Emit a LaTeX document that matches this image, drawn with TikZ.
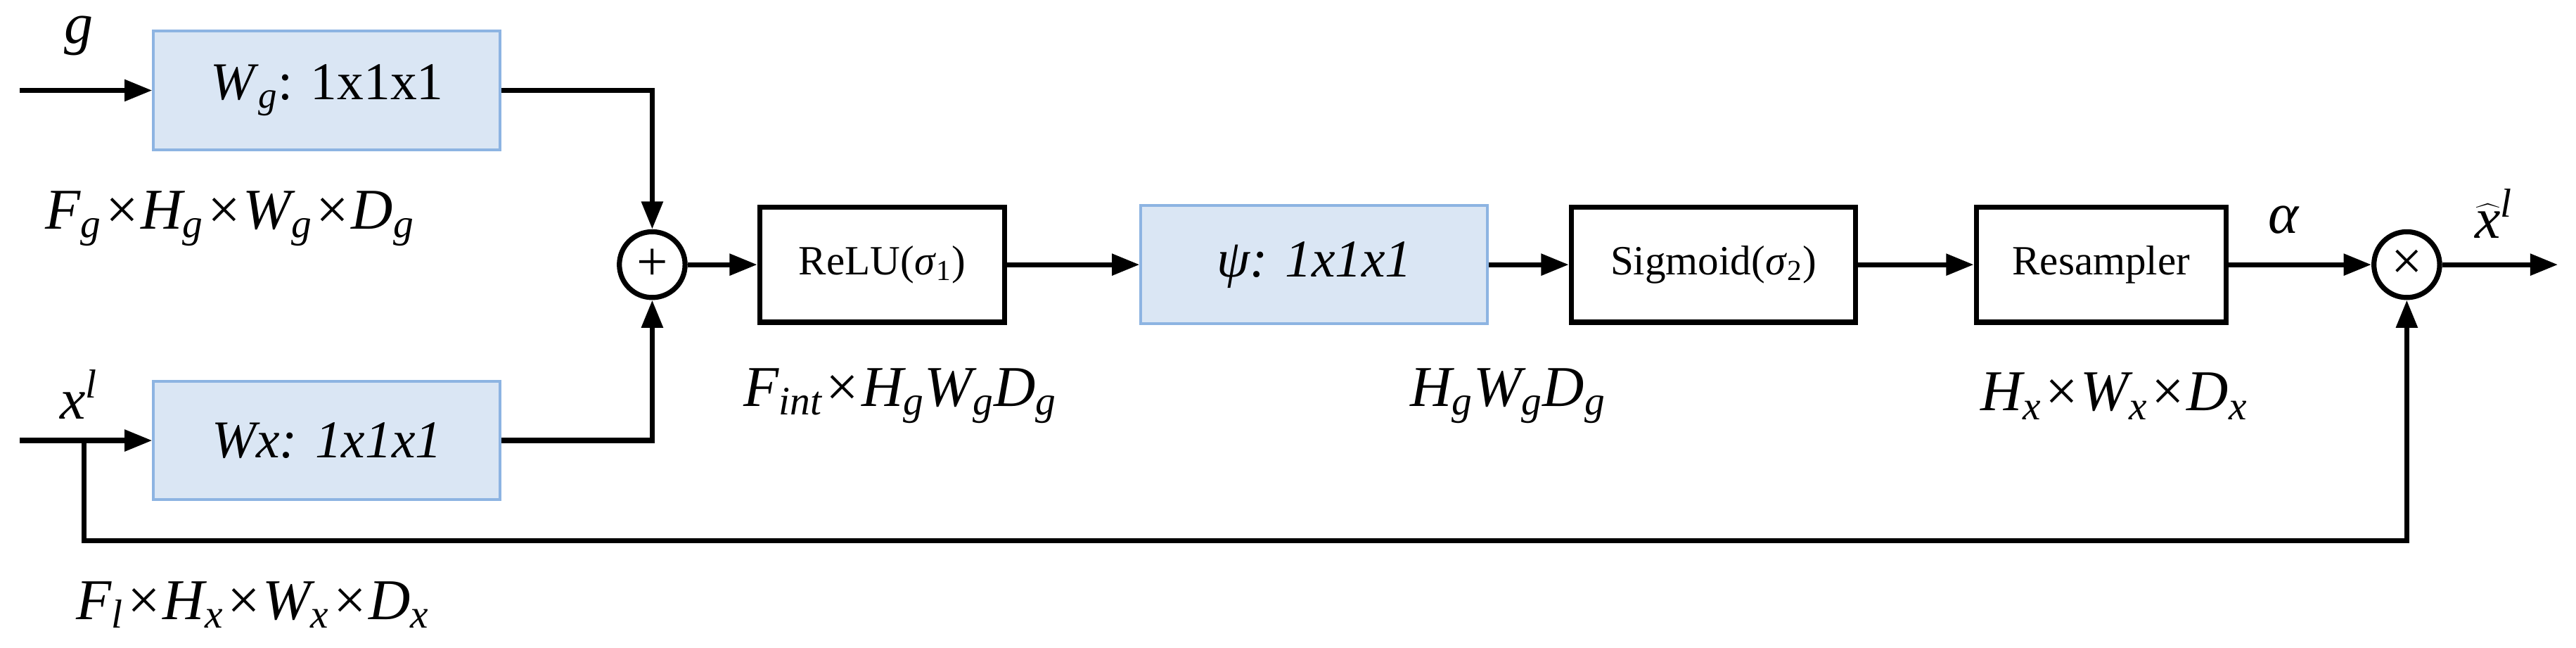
\documentclass[tikz,border=0pt]{standalone}
\usepackage{fontspec}
\setmainfont{Liberation Serif}
\usetikzlibrary{arrows.meta}
\newcommand\sbs[1]{\textsubscript{\textit{#1}}}
\newcommand\sps[1]{\textsuperscript{\textit{#1}}}
\begin{document}
\begin{tikzpicture}[x=0.25mm,y=-0.25mm,
  ln/.style={line width=2.2pt},
  ar/.style={ln,-{Triangle[length=12pt,width=9pt]}},
  blue/.style={draw={rgb,255:red,141;green,180;blue,226},fill={rgb,255:red,218;green,230;blue,244},line width=1.2pt,minimum width=211*0.25mm,minimum height=72*0.25mm,font=\fontsize{23}{27}\selectfont},
  wb/.style={draw,line width=2.2pt,fill=white,minimum height=70*0.25mm,font=\fontsize{18}{21}\selectfont},
  circ/.style={draw,circle,line width=2.2pt,minimum size=40*0.25mm,inner sep=0pt,font=\fontsize{24}{26}\selectfont},
  lab/.style={font=\fontsize{25}{29}\selectfont\itshape}]
\useasboundingbox (0,0) rectangle (1568,394);
\node[blue] (wg) at (199,55) {\textit{W}\sbs{g}: 1x1x1};
\node[blue] (wx) at (199,268) {\textit{Wx: 1x1x1}};
\node[circ] (plus) at (397,161) {+};
\node[wb,minimum width=149*0.25mm] (relu) at (537,161) {ReLU(\textit{σ}\textsubscript{1})};
\node[blue,minimum width=211*0.25mm] (psi) at (800,161) {\textit{ψ: 1x1x1}};
\node[wb,minimum width=173*0.25mm] (sig) at (1043,161) {Sigmoid(\textit{σ}\textsubscript{2})};
\node[wb,minimum width=152*0.25mm] (res) at (1279,161) {Resampler};
\node[circ] (times) at (1465,161) {×};
\coordinate (gin) at (12,55);
\coordinate (xin) at (12,268);
\coordinate (br) at (51,268);
\coordinate (out) at (1557,161);
\node[lab] (gl) at (48,22) {g};
\node[lab] (xl) at (48,240) {x\sps{l}};
\node[lab] (al) at (1390,134) {α};
\node[lab,inner sep=0pt] (ol) at (1518,130) {$\widehat{\mathit{x}}$\sps{l}};
\node[lab] (fg) at (140,133) {F\sbs{g}×H\sbs{g}×W\sbs{g}×D\sbs{g}};
\node[lab] (fl) at (154,368) {F\sbs{l}×H\sbs{x}×W\sbs{x}×D\sbs{x}};
\node[lab] (fi) at (548,241) {F\sbs{int}×H\sbs{g}W\sbs{g}D\sbs{g}};
\node[lab] (hg) at (918,241) {H\sbs{g}W\sbs{g}D\sbs{g}};
\node[lab] (hx) at (1287,241) {H\sbs{x}×W\sbs{x}×D\sbs{x}};
\draw[ar] (gin) -- (wg);
\draw[ar] (xin) -- (wx);
\draw[ar] (wg.east) -| (plus);
\draw[ar] (wx.east) -| (plus);
\draw[ar] (plus) -- (relu);
\draw[ar] (relu) -- (psi);
\draw[ar] (psi) -- (sig);
\draw[ar] (sig) -- (res);
\draw[ar] (res) -- (times);
\draw[ar] (times) -- (out);
\draw[ar] (br) |- (1465,329) -- (times);
\end{tikzpicture}
\end{document}
